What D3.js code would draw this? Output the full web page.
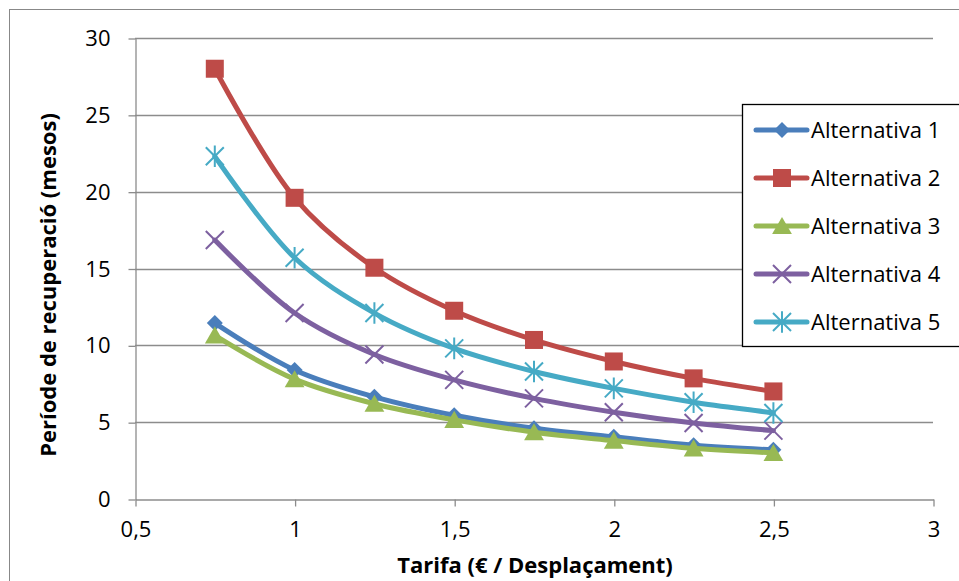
<!DOCTYPE html>
<html>
<head>
<meta charset="utf-8">
<script src="https://cdn.jsdelivr.net/npm/d3@7"></script>
<style>
  body { margin: 0; background: #fff; }
  svg text { font-family: "Open Sans", sans-serif; }
</style>
</head>
<body>
<script>
// data
const tarifes = [0.75, 1, 1.25, 1.5, 1.75, 2, 2.25, 2.5]
const alt1 = [11.45, 8.4, 6.65, 5.45, 4.6, 4.05, 3.5, 3.2]
const alt2 = [28.0, 19.6, 15.05, 12.25, 10.35, 8.95, 7.85, 7.0]
const alt3 = [10.65, 7.8, 6.2, 5.15, 4.35, 3.8, 3.3, 3.0]
const alt4 = [16.85, 12.1, 9.4, 7.75, 6.55, 5.65, 4.95, 4.45]
const alt5 = [22.3, 15.7, 12.1, 9.8, 8.3, 7.2, 6.3, 5.6]
const seriesNames = ["Alternativa 1", "Alternativa 2", "Alternativa 3", "Alternativa 4", "Alternativa 5"]
const xTicks = [0.5, 1, 1.5, 2, 2.5, 3]
const yTicks = [0, 5, 10, 15, 20, 25, 30]

const colors = ["#4a7ebb", "#be4b48", "#98b954", "#7d60a0", "#46aac5"]
const markers = ["diamond", "square", "triangle", "x", "star"]
const allSeries = [alt1, alt2, alt3, alt4, alt5].map((vals, i) => ({
    name: seriesNames[i], color: colors[i], marker: markers[i],
    points: vals.map((v, j) => ({ x: tarifes[j], y: v }))
}))

const width = 959, height = 581
const plot = { left: 135, right: 933, top: 38, bottom: 499 }

const svg = d3.select("body").append("svg")
    .attr("width", width)
    .attr("height", height)

// outer chart frame (runs off the right and bottom)
svg.append("rect")
    .attr("x", 9.5).attr("y", 9.5)
    .attr("width", 980).attr("height", 620)
    .attr("fill", "none").attr("stroke", "#888").attr("stroke-width", 1)

const x = d3.scaleLinear().domain([0.5, 3]).range([plot.left, plot.right])
const y = d3.scaleLinear().domain([0, 30]).range([plot.bottom, plot.top])

// gridlines
svg.append("g")
    .selectAll("line")
    .data(yTicks.filter(d => d > 0))
    .join("line")
    .attr("x1", plot.left).attr("x2", plot.right)
    .attr("y1", d => Math.round(y(d)) + 0.5).attr("y2", d => Math.round(y(d)) + 0.5)
    .attr("stroke", "#8c8c8c").attr("stroke-width", 1.3)

// y axis
const yAxis = svg.append("g")
    .attr("transform", `translate(${plot.left + 0.5},0.5)`)
    .call(d3.axisLeft(y).tickValues(yTicks).tickSize(7).tickSizeOuter(0).tickPadding(18))
yAxis.select(".domain").attr("stroke", "#8c8c8c").attr("stroke-width", 1.3)
yAxis.selectAll(".tick line").attr("stroke", "#8c8c8c").attr("stroke-width", 1.3)
yAxis.selectAll(".tick text").attr("font-size", 22).attr("fill", "#000")

// x axis
const xAxis = svg.append("g")
    .attr("transform", `translate(0.5,${plot.bottom + 0.5})`)
    .call(d3.axisBottom(x).tickValues(xTicks).tickSize(7).tickSizeOuter(0).tickPadding(15)
        .tickFormat(d => String(d).replace(".", ",")))
xAxis.select(".domain").attr("stroke", "#8c8c8c").attr("stroke-width", 1.3)
xAxis.selectAll(".tick line").attr("stroke", "#8c8c8c").attr("stroke-width", 1.3)
xAxis.selectAll(".tick text").attr("font-size", 22).attr("fill", "#000")

// axis titles
svg.append("text")
    .attr("x", 535)
    .attr("y", 573)
    .attr("text-anchor", "middle")
    .attr("font-size", 22).attr("font-weight", "bold")
    .text("Tarifa (€ / Desplaçament)")

svg.append("text")
    .attr("transform", "translate(56,285) rotate(-90)")
    .attr("text-anchor", "middle")
    .attr("font-size", 22).attr("font-weight", "bold")
    .text("Període de recuperació (mesos)")

function drawMarker(g, type, color, size) {
    const s = size
    if (type === "diamond") {
        g.append("path").attr("d", `M0,${-s}L${s},0L0,${s}L${-s},0Z`).attr("fill", color)
    } else if (type === "square") {
        g.append("rect").attr("x", -s).attr("y", -s).attr("width", 2 * s).attr("height", 2 * s).attr("fill", color)
    } else if (type === "triangle") {
        g.append("path").attr("d", `M0,${-s}L${s * 1.1},${s * 0.9}L${-s * 1.1},${s * 0.9}Z`).attr("fill", color)
    } else if (type === "x") {
        g.append("path").attr("d", `M${-s},${-s}L${s},${s}M${s},${-s}L${-s},${s}`)
            .attr("stroke", color).attr("stroke-width", 2).attr("fill", "none")
    } else if (type === "star") {
        g.append("path").attr("d", `M${-s},${-s}L${s},${s}M${s},${-s}L${-s},${s}M0,${-s * 1.2}L0,${s * 1.2}`)
            .attr("stroke", color).attr("stroke-width", 2).attr("fill", "none")
    }
}

const line = d3.line()
    .x(d => x(d.x))
    .y(d => y(d.y))
    .curve(d3.curveCatmullRom.alpha(0.5))

const markerSize = { diamond: 8, square: 9, triangle: 9, x: 9, star: 9 }

const seriesG = svg.append("g")
    .selectAll("g")
    .data(allSeries)
    .join("g")

seriesG.append("path")
    .attr("d", d => line(d.points))
    .attr("fill", "none")
    .attr("stroke", d => d.color)
    .attr("stroke-width", 5)
    .attr("stroke-linejoin", "round")
    .attr("stroke-linecap", "round")

seriesG.each(function (s) {
    d3.select(this).selectAll("g.pt")
        .data(s.points)
        .join("g")
        .attr("class", "pt")
        .attr("transform", d => `translate(${x(d.x)},${y(d.y)})`)
        .each(function () { drawMarker(d3.select(this), s.marker, s.color, markerSize[s.marker]) })
})

// legend
const legend = svg.append("g").attr("transform", "translate(742,104)")
legend.append("rect")
    .attr("x", 0.5).attr("y", 0.5)
    .attr("width", 240).attr("height", 242)
    .attr("fill", "#fff").attr("stroke", "#000").attr("stroke-width", 1.3)

const item = legend.selectAll("g.item")
    .data(allSeries)
    .join("g")
    .attr("class", "item")
    .attr("transform", (d, i) => `translate(0,${26 + i * 48})`)

item.append("line")
    .attr("x1", 14).attr("x2", 65)
    .attr("stroke", d => d.color).attr("stroke-width", 5).attr("stroke-linecap", "round")
item.each(function (s) {
    const g = d3.select(this).append("g").attr("transform", "translate(40,0)")
    drawMarker(g, s.marker, s.color, markerSize[s.marker])
})
item.append("text")
    .attr("x", 69).attr("y", 0)
    .attr("dy", "0.35em")
    .attr("font-size", 22)
    .attr("fill", "#000")
    .text(d => d.name)
</script>
</body>
</html>
